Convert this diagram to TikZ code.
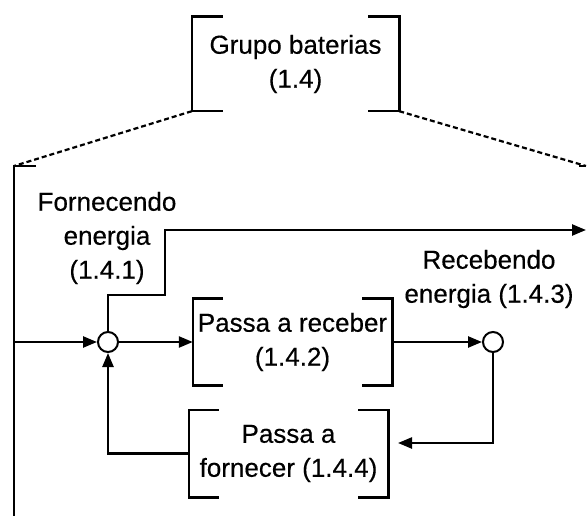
\documentclass[tikz,border=0pt]{standalone}
\usepackage{fontspec}
\setmainfont[FakeBold=0.4]{Liberation Sans}
\usetikzlibrary{arrows.meta}
\tikzset{
  ln/.style={line width=2.4pt},
  brk/.style={line width=2.6pt},
  arr/.style={ln,-{Triangle[length=14pt,width=11pt]}},
  dsh/.style={line width=2.2pt,dash pattern=on 5pt off 3pt},
  txt/.style={align=center,inner sep=0pt,font=\fontsize{26}{34}\selectfont},
  boxnode/.style={txt,minimum width=199pt,minimum height=87pt},
  junction/.style={circle,draw,line width=2pt,fill=white,minimum size=20pt,inner sep=0pt}
}
\newcommand\drawbrackets[2][31]{%
  \draw[brk] ([xshift=#1pt]#2.north west) -- (#2.north west) -- (#2.south west) -- ([xshift=#1pt]#2.south west);
  \draw[brk] ([xshift=-#1pt]#2.north east) -- (#2.north east) -- (#2.south east) -- ([xshift=-#1pt]#2.south east);}
\begin{document}
\begin{tikzpicture}[x=1pt,y=-1pt]
\useasboundingbox[fill=white] (0,0) rectangle (587,516);
% nodes
\node[txt,minimum width=207pt,minimum height=94pt] (g) at (295.5,64) {Grupo baterias\\(1.4)};
\node[boxnode] (r) at (292.5,342) {Passa a receber\\(1.4.2)};
\node[boxnode] (f) at (288.5,453.5) {Passa a\\fornecer (1.4.4)};
\node[junction] (c1) at (108,342) {};
\node[junction] (c2) at (493,342) {};
\node[txt] (t1) at (107,238) {Fornecendo\\energia\\(1.4.1)};
\node[txt] (t3) at (489,279) {Recebendo\\energia (1.4.3)};
% brackets
\drawbrackets{g}
\drawbrackets[30]{r}
\drawbrackets[30]{f}
% outer bracket
\coordinate (ol) at (14,166);
\coordinate (obot) at (14,516);
\coordinate (oltick) at (36,166);
\coordinate (or) at (586,166);
\coordinate (ortick) at (579,166);
\draw[brk] (oltick) -- (ol) -- (obot);
\draw[brk] (ortick) -- (or);
\draw[dsh] (g.south west) -- (ol);
\draw[dsh] (g.south east) -- (or);
% connectors
\coordinate (k1) at (165,295);
\coordinate (oute) at (586,230);
\coordinate (fin) at (398,443);
\draw[arr] (ol |- c1) -- (c1.west);
\draw[arr] (c1.east) -- (r.west);
\draw[arr] (r.east) -- (c2.west);
\draw[arr] (c2.south) |- (fin);
\draw[arr] (f.west) -| (c1.south);
\draw[arr] (c1.north) |- (k1) |- (oute);
\end{tikzpicture}
\end{document}
